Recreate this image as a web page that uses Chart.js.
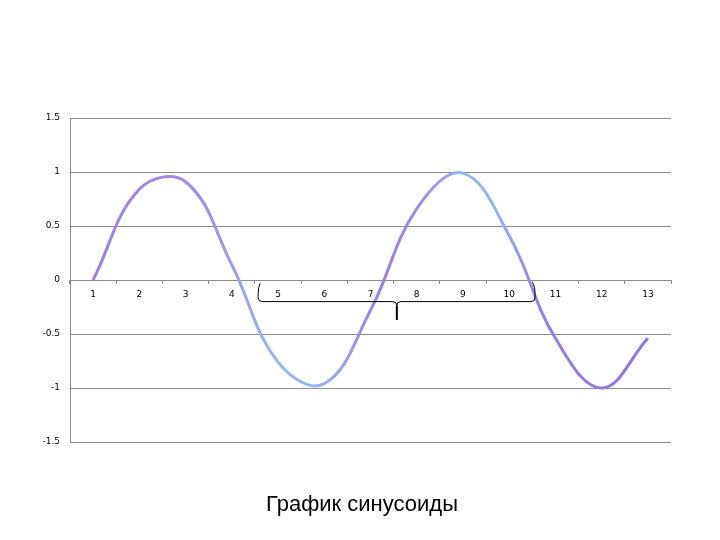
<!DOCTYPE html>
<html>
<head>
<meta charset="utf-8">
<script src="https://cdn.jsdelivr.net/npm/chart.js@4"></script>
<style>
  html, body { margin: 0; padding: 0; background: #fff; }
  #wrap { width: 720px; height: 540px; }
</style>
</head>
<body>
<div id="wrap"><canvas id="sinChart" width="720" height="540"></canvas></div>
<script>
// Données
const categories = ['1', '2', '3', '4', '5', '6', '7', '8', '9', '10', '11', '12', '13'];
const valeurs = [0, 0.84, 0.91, 0.14, -0.76, -0.96, -0.28, 0.66, 0.99, 0.41, -0.54, -1.0, -0.54];
const yTicks = [1.5, 1, 0.5, 0, -0.5, -1, -1.5];
const titre = 'График синусоиды';
// accolades : [début, pointe, fin] en index de catégorie
const accolade = [3.57, 6.57, 9.56];

// Dégradé violet / bleu le long de la courbe
function degradeCourbe(context) {
    const chart = context.chart;
    const area = chart.chartArea;
    if (!area) return '#9a78de';
    const g = chart.ctx.createLinearGradient(area.left, 0, area.right, 0);
    g.addColorStop(0.00, '#9f7ce2');
    g.addColorStop(0.22, '#a58ae6');
    g.addColorStop(0.33, '#93b6ee');
    g.addColorStop(0.42, '#93b6ee');
    g.addColorStop(0.52, '#9c7ae0');
    g.addColorStop(0.60, '#a88fe6');
    g.addColorStop(0.65, '#8fb9f0');
    g.addColorStop(0.71, '#8fb9f0');
    g.addColorStop(0.78, '#9a7ce0');
    g.addColorStop(1.00, '#9670dc');
    return g;
}

// Plugin pour les accolades sous l'axe
const accoladesPlugin = {
    id: 'accolades',
    afterDatasetsDraw(chart) {
        const x = chart.scales.x, y = chart.scales.y;
        const ctx = chart.ctx;
        const x0 = x.getPixelForValue(accolade[0]);
        const xm = x.getPixelForValue(accolade[1]);
        const x1 = x.getPixelForValue(accolade[2]);
        const yTop = y.getPixelForValue(-0.03);
        const yLine = y.getPixelForValue(-0.2);
        const yTip = y.getPixelForValue(-0.37);
        const r = 4;
        ctx.save();
        ctx.strokeStyle = '#000';
        ctx.lineWidth = 1;
        ctx.beginPath();
        ctx.moveTo(x0 + 2, yTop);
        ctx.quadraticCurveTo(x0, yTop + 4, x0, yTop + 10);
        ctx.lineTo(x0, yLine - r);
        ctx.quadraticCurveTo(x0, yLine, x0 + r, yLine);
        ctx.lineTo(xm - r, yLine);
        ctx.quadraticCurveTo(xm, yLine, xm, yLine + r);
        ctx.moveTo(xm, yLine + r);
        ctx.quadraticCurveTo(xm, yLine, xm + r, yLine);
        ctx.lineTo(x1 - r, yLine);
        ctx.quadraticCurveTo(x1, yLine, x1, yLine - r);
        ctx.lineTo(x1, yTop + 10);
        ctx.quadraticCurveTo(x1, yTop + 4, x1 - 2, yTop);
        ctx.stroke();
        ctx.lineWidth = 2;
        ctx.beginPath();
        ctx.moveTo(xm, yLine + r);
        ctx.lineTo(xm, yTip);
        ctx.stroke();
        ctx.restore();
    }
};

// Titre sous le graphique, centré sur la page
const titrePlugin = {
    id: 'titreBas',
    afterDraw(chart) {
        const ctx = chart.ctx;
        ctx.save();
        ctx.fillStyle = '#000';
        ctx.font = '22px "Liberation Sans", Arial, sans-serif';
        ctx.textAlign = 'center';
        ctx.textBaseline = 'middle';
        ctx.fillText(titre, 362, 505);
        ctx.restore();
    }
};

const ctx = document.getElementById('sinChart').getContext('2d');
new Chart(ctx, {
    type: 'line',
    data: {
        labels: categories,
        datasets: [{
            label: 'sin',
            data: valeurs,
            borderColor: degradeCourbe,
            borderWidth: 3,
            pointRadius: 0,
            tension: 0.4,
            fill: false
        }]
    },
    options: {
        responsive: false,
        animation: false,
        layout: { padding: { left: 0, right: 49, top: 118, bottom: 98 } },
        plugins: {
            legend: { display: false },
            tooltip: { enabled: false },
            title: { display: false }
        },
        scales: {
            x: {
                type: 'category',
                position: { y: 0 },
                offset: true,
                grid: {
                    offset: true,
                    drawOnChartArea: false,
                    drawTicks: true,
                    tickLength: 4,
                    color: '#888'
                },
                border: { display: false },
                ticks: {
                    color: '#000',
                    font: { family: 'DejaVu Sans', size: 9 },
                    maxRotation: 0,
                    padding: 5
                }
            },
            y: {
                min: -1.5,
                max: 1.5,
                afterFit(scale) { scale.width = 70; },
                afterBuildTicks(scale) { scale.ticks = yTicks.map(v => ({ value: v })); },
                grid: { color: '#8c8c8c', drawTicks: false, lineWidth: 1 },
                border: { display: true, color: '#8c8c8c' },
                ticks: {
                    color: '#000',
                    font: { family: 'DejaVu Sans', size: 9 },
                    padding: 10,
                    callback: v => String(v)
                }
            }
        }
    },
    plugins: [accoladesPlugin, titrePlugin]
});
</script>
</body>
</html>
